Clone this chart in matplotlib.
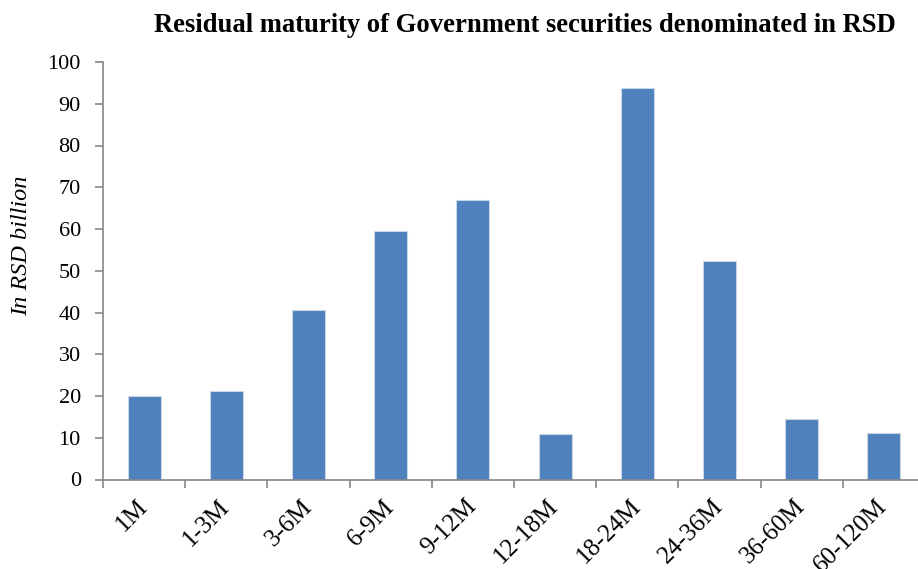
import matplotlib
matplotlib.use("Agg")
import matplotlib.pyplot as plt
import numpy as np

categories = ["1M", "1-3M", "3-6M", "6-9M", "9-12M", "12-18M",
              "18-24M", "24-36M", "36-60M", "60-120M"]
values = [19.9, 21.3, 40.6, 59.5, 67.0, 10.8, 93.8, 52.3, 14.5, 11.2]
yticks = np.arange(0, 101, 10)

plt.rcParams["font.family"] = ["Liberation Serif", "DejaVu Serif"]

W, H = 918, 569
fig = plt.figure(figsize=(W / 100, H / 100), dpi=100)
# plot area runs slightly past the right edge of the picture
left, right, top, bottom = 103, 925, 62, 479.5
ax = fig.add_axes([left / W, 1 - bottom / H, (right - left) / W, (bottom - top) / H])

x = np.arange(len(categories))
ax.bar(x, values, width=0.4, color="#4F81BD", edgecolor="#C9D7EA", linewidth=0.8, zorder=2)

ax.set_xlim(-0.5, len(categories) - 0.5)
ax.set_ylim(0, 100)
ax.set_yticks(yticks)
ax.set_yticklabels([str(v) for v in yticks], fontsize=16)

ax.set_xticks(np.arange(-0.5, len(categories), 1.0))
ax.set_xticklabels([])
ax.set_xticks(x, minor=True)
ax.set_xticklabels(categories, minor=True, fontsize=18, rotation=45,
                   ha="right", va="center", rotation_mode="anchor")
ax.tick_params(axis="x", which="minor", length=0, pad=17)
ax.tick_params(axis="x", which="major", length=6, width=1.2, color="#868686", direction="out")
ax.tick_params(axis="y", length=6, width=1.2, color="#868686", direction="out", pad=10)

for s in ["top", "right"]:
    ax.spines[s].set_visible(False)
for s in ["left", "bottom"]:
    ax.spines[s].set_color("#868686")
    ax.spines[s].set_linewidth(1.2)

fig.text(22 / W, 1 - 246 / H, "In RSD billion", rotation=90, ha="center", va="center",
         fontsize=17.5, style="italic")
fig.text(525 / W, 1 - 25 / H, "Residual maturity of Government securities denominated in RSD",
         ha="center", va="center", fontsize=19.2, fontweight="bold")

fig.savefig("out.png", dpi=100)
